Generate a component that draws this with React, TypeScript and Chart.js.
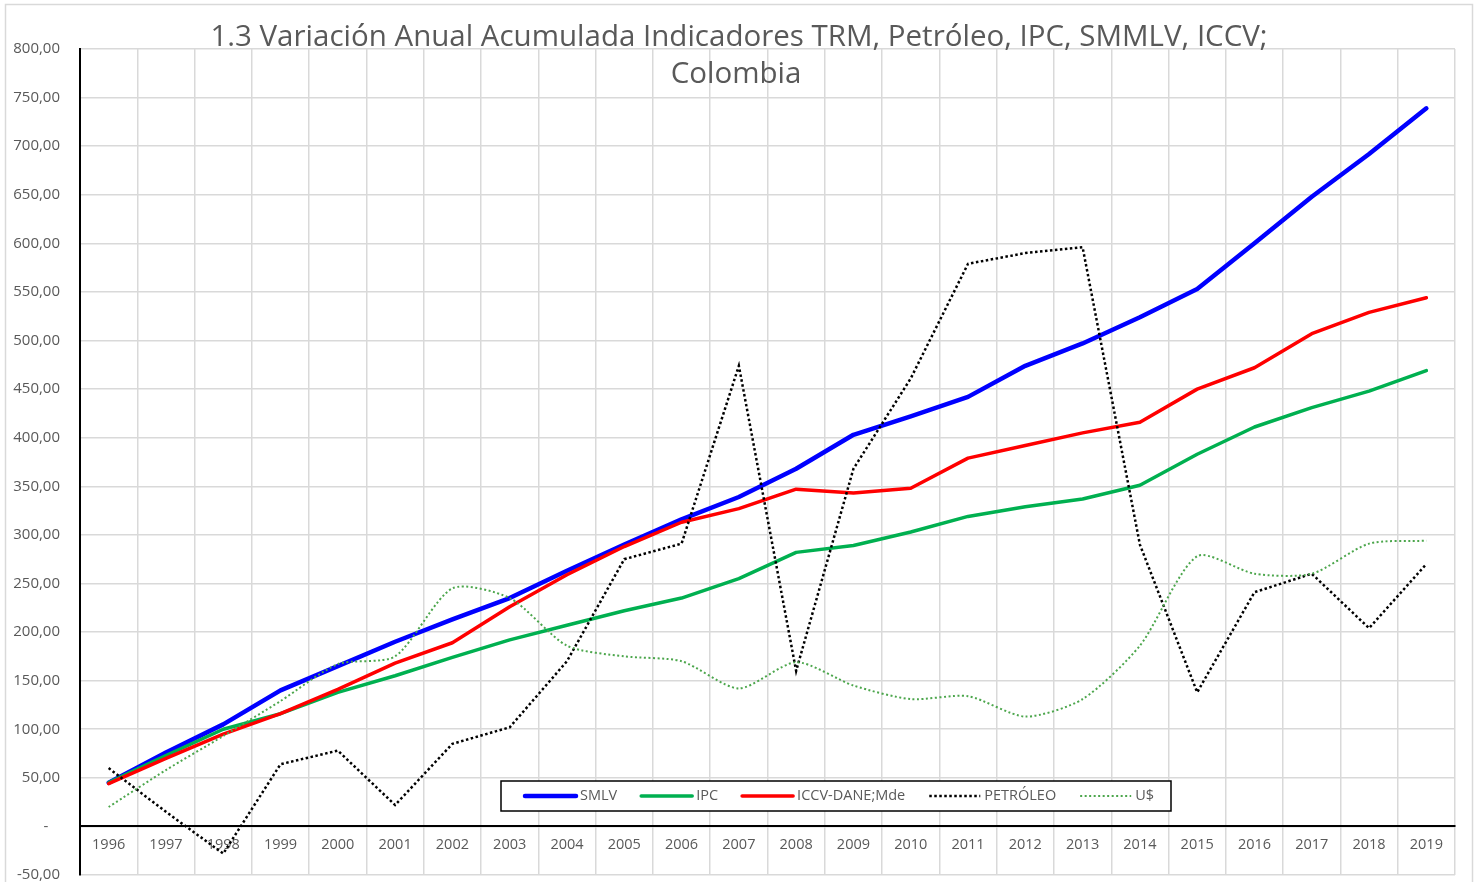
import React, { useEffect, useRef } from 'react';
import { Chart, registerables } from 'chart.js';

Chart.register(...registerables);

const years = ['1996', '1997', '1998', '1999', '2000', '2001', '2002', '2003', '2004', '2005', '2006', '2007',
  '2008', '2009', '2010', '2011', '2012', '2013', '2014', '2015', '2016', '2017', '2018', '2019'];

const smlv = [45, 76, 105, 140, 165, 190, 213, 235, 263, 290, 316, 339, 368, 403, 422, 442, 474, 497, 524, 553, 600, 648, 692, 739];
const ipc = [45, 73, 100, 116, 138, 155, 174, 192, 207, 222, 235, 255, 282, 289, 303, 319, 329, 337, 351, 383, 411, 431, 448, 469];
const iccv = [44, 70, 95, 116, 141, 168, 189, 226, 259, 288, 313, 327, 347, 343, 348, 379, 392, 405, 416, 450, 472, 507, 529, 544];
const petroleo = [60, 15, -28, 64, 78, 22, 85, 102, 170, 275, 291, 474, 160, 368, 461, 579, 590, 596, 290, 138, 241, 260, 204, 270];
const usd = [20, 58, 93, 129, 167, 175, 245, 235, 186, 175, 170, 142, 169, 145, 131, 134, 113, 131, 186, 278, 260, 260, 291, 294];

const seriesLabels = ['SMLV', 'IPC', 'ICCV-DANE;Mde', 'PETRÓLEO', 'U$'];
const titleLines = ['1.3 Variación Anual Acumulada Indicadores TRM, Petróleo, IPC, SMMLV, ICCV;', 'Colombia'];

const yMin = -50;
const yMax = 800;
const yStep = 50;

const FONT = "'Open Sans', sans-serif";
const TEXT = '#595959';
const GRID = '#d9d9d9';

const titlePlugin = {
  id: 'customTitle',
  afterDraw(chart: any) {
    const ctx = chart.ctx;
    ctx.save();
    ctx.fillStyle = TEXT;
    ctx.font = `29.5px ${FONT}`;
    ctx.textAlign = 'center';
    ctx.textBaseline = 'middle';
    ctx.fillText(titleLines[0], 739, 38);
    ctx.fillText(titleLines[1], 736, 75);
    ctx.restore();
  },
};

const framePlugin = {
  id: 'frame',
  beforeDraw(chart: any) {
    const ctx = chart.ctx;
    ctx.save();
    ctx.fillStyle = '#fff';
    ctx.fillRect(0, 0, chart.width, chart.height);
    ctx.strokeStyle = GRID;
    ctx.lineWidth = 1.5;
    ctx.strokeRect(5.5, 4.5, 1467, 900);
    ctx.restore();
  },
};

const legendPlugin = {
  id: 'boxLegend',
  afterDraw(chart: any) {
    const ctx = chart.ctx;
    ctx.save();
    ctx.fillStyle = '#fff';
    ctx.fillRect(501, 781, 670, 30);
    ctx.strokeStyle = '#000';
    ctx.lineWidth = 1.5;
    ctx.strokeRect(501, 781, 670, 30);
    ctx.font = `14.5px ${FONT}`;
    ctx.textBaseline = 'middle';
    let x = 525;
    const y = 796;
    chart.data.datasets.forEach((ds: any) => {
      ctx.save();
      ctx.strokeStyle = ds.borderColor;
      ctx.lineWidth = ds.borderWidth;
      ctx.setLineDash(ds.borderDash || []);
      ctx.lineCap = ds.borderDash ? 'butt' : 'round';
      ctx.beginPath();
      ctx.moveTo(x, y);
      ctx.lineTo(x + 51, y);
      ctx.stroke();
      ctx.restore();
      x += 55;
      ctx.fillStyle = TEXT;
      ctx.fillText(ds.label, x, y);
      x += ctx.measureText(ds.label).width + 24;
    });
    ctx.restore();
  },
};

function fmt(v: number) {
  if (v === 0) return '-   ';
  return v.toFixed(2).replace('.', ',');
}

export default function App() {
  const ref = useRef<HTMLCanvasElement>(null);
  useEffect(() => {
    const canvas = ref.current;
    if (!canvas) return;
    const chart = new Chart(canvas, {
      type: 'line',
      data: {
        labels: years,
        datasets: [
          { label: seriesLabels[0], data: smlv, borderColor: '#0000ff', borderWidth: 4.5, order: 5, borderCapStyle: 'round', borderJoinStyle: 'round' },
          { label: seriesLabels[1], data: ipc, borderColor: '#00b050', borderWidth: 3.5, order: 4, borderCapStyle: 'round', borderJoinStyle: 'round' },
          { label: seriesLabels[2], data: iccv, borderColor: '#ff0000', borderWidth: 3.5, order: 3, borderCapStyle: 'round', borderJoinStyle: 'round' },
          { label: seriesLabels[3], data: petroleo, borderColor: '#000000', borderWidth: 2.5, borderDash: [2.5, 2.5], order: 2 },
          { label: seriesLabels[4], data: usd, borderColor: '#4ca64c', borderWidth: 2, borderDash: [2, 2.5], order: 1, tension: 0.25 },
        ] as any,
      },
      options: {
        animation: false,
        responsive: false,
        maintainAspectRatio: false,
        layout: { padding: { left: 0, top: 49, right: 23, bottom: 7 } },
        elements: { point: { radius: 0, hoverRadius: 0 } },
        plugins: { legend: { display: false }, title: { display: false }, tooltip: { enabled: false } },
        scales: {
          x: {
            type: 'category',
            position: { y: 0 } as any,
            offset: true,
            grid: { offset: true, color: GRID, lineWidth: 1.5, drawTicks: false },
            border: { display: true, color: '#000', width: 2 },
            ticks: { color: TEXT, font: { family: FONT, size: 14.5 }, padding: 10, maxRotation: 0, autoSkip: false },
            afterFit: (s: any) => { s.height = 0; },
          },
          y: {
            min: yMin,
            max: yMax,
            grid: { color: GRID, lineWidth: 1.5, drawTicks: false },
            border: { display: true, color: '#000', width: 2 },
            ticks: { stepSize: yStep, color: TEXT, font: { family: FONT, size: 15 }, padding: 20, callback: (v: any) => fmt(Number(v)) },
            afterFit: (s: any) => { s.width = 80; s.paddingTop = 0; s.paddingBottom = 0; },
          },
        },
      },
      plugins: [framePlugin, titlePlugin, legendPlugin],
    } as any);
    return () => chart.destroy();
  }, []);
  return (
    <div style={{ position: 'fixed', left: 0, top: 0, width: 1478, height: 882, background: '#fff' }}>
      <canvas ref={ref} width={1478} height={882} style={{ width: 1478, height: 882, display: 'block' }} />
    </div>
  );
}
